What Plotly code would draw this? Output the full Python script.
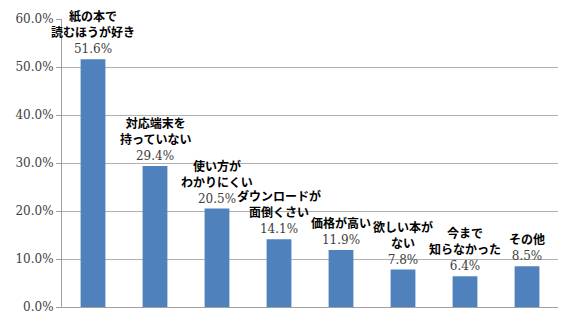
import plotly.graph_objects as go

categories = ["紙の本で<br>読むほうが好き", "対応端末を<br>持っていない", "使い方が<br>わかりにくい",
              "ダウンロードが<br>面倒くさい", "価格が高い", "欲しい本が<br>ない",
              "今まで<br>知らなかった", "その他"]
values = [51.6, 29.4, 20.5, 14.1, 11.9, 7.8, 6.4, 8.5]
value_labels = [f"{v:.1f}%" for v in values]
tick_vals = [0, 10, 20, 30, 40, 50, 60]
tick_text = [f"{t:.1f}%" for t in tick_vals]

xs = list(range(len(categories)))

fig = go.Figure()
fig.add_trace(go.Bar(
    x=xs, y=values,
    marker=dict(color="#4F81BD", line=dict(width=0)),
    text=value_labels, textposition="outside", cliponaxis=False,
    constraintext="none",
    textfont=dict(family="DejaVu Serif", size=12, color="#404040"),
))

for x, c, v in zip(xs, categories, values):
    fig.add_annotation(
        x=x, y=v, text=c, showarrow=False, yanchor="bottom", xanchor="center",
        yshift=17, align="center",
        font=dict(family="Noto Sans CJK JP", size=12, color="#000000", weight="bold"),
    )

fig.update_layout(
    width=570, height=330,
    margin=dict(l=62, r=12, t=19, b=23),
    plot_bgcolor="white", paper_bgcolor="white",
    bargap=0.6, showlegend=False,
)
fig.update_xaxes(
    range=[-0.5, len(categories) - 0.5], showticklabels=False, showgrid=False,
    showline=True, linecolor="#A0A0A0", linewidth=1, zeroline=False, ticks="",
)
fig.update_yaxes(
    range=[0, 60], tickvals=tick_vals, ticktext=tick_text,
    showgrid=True, gridcolor="#B0B0B0", gridwidth=1,
    showline=True, linecolor="#A0A0A0", linewidth=1, zeroline=False,
    ticks="outside", ticklen=5, tickcolor="#A0A0A0",
    tickfont=dict(family="DejaVu Serif", size=12, color="#404040"),
)

fig.write_html("out.html")
